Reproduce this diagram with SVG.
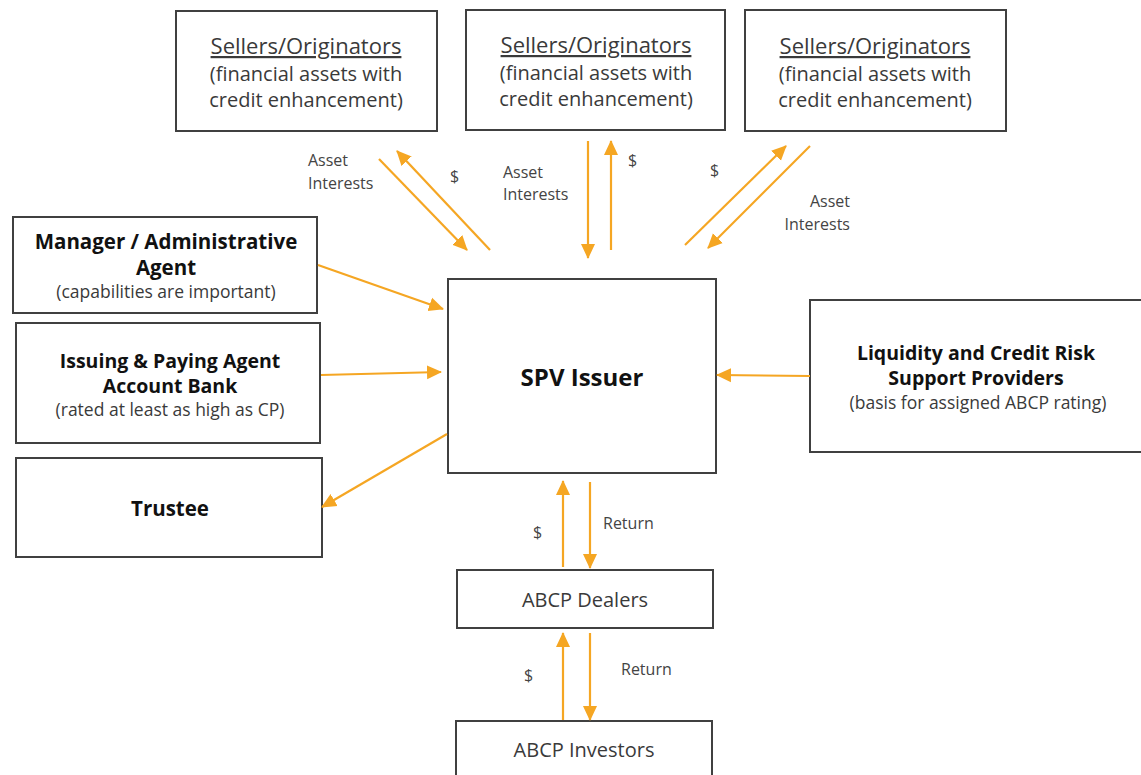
<svg xmlns="http://www.w3.org/2000/svg" width="1141" height="775" viewBox="0 0 1141 775">
<style>
.box{fill:#fff;stroke:#404040;stroke-width:2}
.t{font-family:"Open Sans","Liberation Sans",sans-serif;fill:#3a3a3a;text-anchor:middle}
.s1{font-size:22px}
.s{font-size:20px}
.b{font-weight:bold;font-size:20.5px;fill:#111}
.b2{font-weight:bold;font-size:19.5px;fill:#111}
.r{font-size:17.5px}
.l{font-family:"Open Sans","Liberation Sans",sans-serif;font-size:16px;fill:#444}
.c{stroke:#F5A623;stroke-width:2.2;fill:none;marker-end:url(#ah)}
</style>
<defs>
<marker id="ah" markerUnits="userSpaceOnUse" markerWidth="16" markerHeight="16" refX="14" refY="8" orient="auto">
<path d="M0,1 L15,8 L0,15 Z" fill="#F5A623"/>
</marker>
</defs>
<rect width="1141" height="775" fill="#fff"/>
<g id="seller1">
<rect class="box" x="176" y="11" width="261" height="120"/>
<text class="t s1" x="306" y="54" text-decoration="underline">Sellers/Originators</text>
<text class="t s" x="306" y="81">(financial assets with</text>
<text class="t s" x="306" y="107">credit enhancement)</text>
</g>
<g id="seller2">
<rect class="box" x="466" y="10" width="259" height="120"/>
<text class="t s1" x="596" y="53" text-decoration="underline">Sellers/Originators</text>
<text class="t s" x="596" y="80">(financial assets with</text>
<text class="t s" x="596" y="106">credit enhancement)</text>
</g>
<g id="seller3">
<rect class="box" x="745" y="10" width="261" height="121"/>
<text class="t s1" x="875" y="54" text-decoration="underline">Sellers/Originators</text>
<text class="t s" x="875" y="81">(financial assets with</text>
<text class="t s" x="875" y="107">credit enhancement)</text>
</g>
<g id="manager">
<rect class="box" x="13" y="217" width="304" height="96"/>
<text class="t b" x="166" y="249">Manager / Administrative</text>
<text class="t b" x="166" y="275">Agent</text>
<text class="t r" x="166" y="298">(capabilities are important)</text>
</g>
<g id="issuing">
<rect class="box" x="16" y="323" width="304" height="120"/>
<text class="t b2" x="170" y="368">Issuing &amp; Paying Agent</text>
<text class="t b2" x="170" y="393">Account Bank</text>
<text class="t r" x="170" y="416">(rated at least as high as CP)</text>
</g>
<g id="trustee">
<rect class="box" x="16" y="458" width="306" height="99"/>
<text class="t b" x="170" y="516">Trustee</text>
</g>
<g id="spv">
<rect class="box" x="448" y="279" width="268" height="194"/>
<text class="t" x="582" y="386" style="font-weight:bold;font-size:24px;fill:#111">SPV Issuer</text>
</g>
<g id="liquidity">
<rect class="box" x="810" y="300" width="332" height="152"/>
<text class="t b2" x="976" y="360">Liquidity and Credit Risk</text>
<text class="t b2" x="976" y="385">Support  Providers</text>
<text class="t r" x="978" y="409">(basis for assigned ABCP rating)</text>
</g>
<g id="dealers">
<rect class="box" x="457" y="570" width="256" height="58"/>
<text class="t" x="585" y="607" style="font-size:20px">ABCP Dealers</text>
</g>
<g id="investors">
<rect class="box" x="456" y="721" width="256" height="60"/>
<text class="t" x="584" y="757" style="font-size:20px">ABCP Investors</text>
</g>
<g id="connectors">
<line class="c" x1="379" y1="159" x2="467" y2="250"/>
<line class="c" x1="490" y1="250" x2="397" y2="151"/>
<line class="c" x1="588" y1="141" x2="588" y2="258"/>
<line class="c" x1="611" y1="250" x2="611" y2="141"/>
<line class="c" x1="685" y1="245" x2="786" y2="146"/>
<line class="c" x1="810" y1="146" x2="708" y2="248"/>
<line class="c" x1="318" y1="265" x2="443" y2="309"/>
<line class="c" x1="321" y1="375" x2="441" y2="372"/>
<line class="c" x1="447" y1="434" x2="322" y2="507"/>
<line class="c" x1="810" y1="376" x2="717" y2="375"/>
<line class="c" x1="563" y1="567" x2="563" y2="481"/>
<line class="c" x1="590" y1="482" x2="590" y2="568"/>
<line class="c" x1="563" y1="720" x2="563" y2="633"/>
<line class="c" x1="590" y1="633" x2="590" y2="720"/>
</g>
<g id="labels">
<text class="l" x="308" y="166">Asset</text>
<text class="l" x="308" y="189">Interests</text>
<text class="l" x="450" y="182">$</text>
<text class="l" x="503" y="178">Asset</text>
<text class="l" x="503" y="200">Interests</text>
<text class="l" x="628" y="166">$</text>
<text class="l" x="710" y="176">$</text>
<text class="l" x="850" y="207" text-anchor="end">Asset</text>
<text class="l" x="850" y="230" text-anchor="end">Interests</text>
<text class="l" x="533" y="538">$</text>
<text class="l" x="603" y="529">Return</text>
<text class="l" x="524" y="681">$</text>
<text class="l" x="621" y="675">Return</text>
</g>
</svg>
